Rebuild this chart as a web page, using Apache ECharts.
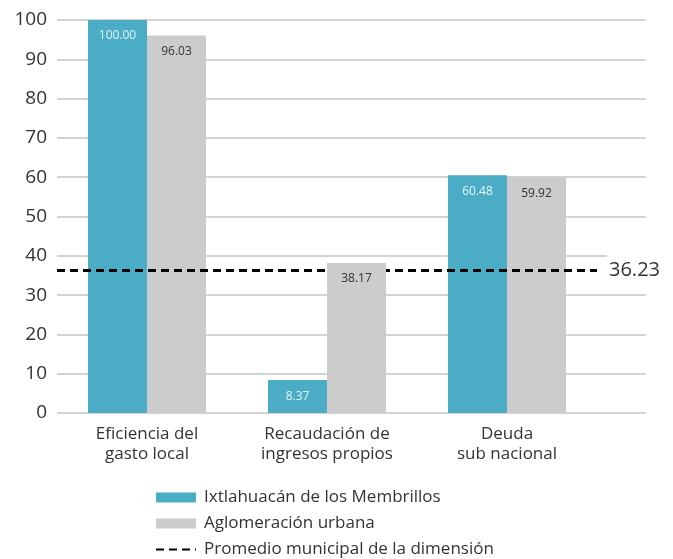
<!DOCTYPE html>
<html>
<head>
<meta charset="utf-8">
<script src="https://cdn.jsdelivr.net/npm/echarts@6/dist/echarts.min.js"></script>
<style>
html,body{margin:0;padding:0;background:#fff;}
#chart{width:673px;height:559px;}
</style>
</head>
<body>
<div id="chart"></div>
<script>
const categories = ['Eficiencia del\ngasto local', 'Recaudación de\ningresos propios', 'Deuda\nsub nacional'];
const seriesNames = ['Ixtlahuacán de los Membrillos', 'Aglomeración urbana', 'Promedio municipal de la dimensión'];
const municipio = [100.00, 8.37, 60.48];
const aglomeracion = [96.03, 38.17, 59.92];
const promedio = 36.23;
// the reference draws this one grey bar above the dashed average line
const aglomeracionAbove = aglomeracion.map((v, i) => (i === 1 ? v : '-'));

const FONT = 'Open Sans';
const chart = echarts.init(document.getElementById('chart'), null, {renderer: 'canvas'});

const greyLabel = {show: true, position: 'insideTop', distance: 10, fontSize: 12, color: '#333333',
                   formatter: p => p.value.toFixed(2), fontFamily: FONT};

const option = {
  animation: false,
  backgroundColor: '#ffffff',
  textStyle: {fontFamily: FONT},
  grid: [
    {left: 57, right: 27, top: 20, bottom: 146},
    {left: 57, right: 76, top: 20, bottom: 146}
  ],
  xAxis: [
    {gridIndex: 0, type: 'value', min: 0, max: 1, show: false},
    {
      gridIndex: 1, type: 'category', data: categories,
      axisLine: {show: false}, axisTick: {show: false},
      axisLabel: {color: '#333333', fontSize: 17, lineHeight: 20, margin: 11, fontFamily: FONT}
    },
    {gridIndex: 1, type: 'category', data: categories, show: false}
  ],
  yAxis: [
    {
      gridIndex: 0, type: 'value', min: 0, max: 100, interval: 10,
      axisLine: {show: false}, axisTick: {show: false},
      axisLabel: {color: '#333333', fontSize: 19, margin: 10, fontFamily: FONT},
      splitLine: {lineStyle: {color: '#c4c4c4', width: 1.5}}
    },
    {
      gridIndex: 1, type: 'value', min: 0, max: 100, interval: 10, show: false,
      splitLine: {show: false}
    }
  ],
  legend: {
    orient: 'vertical', left: 155, top: 489, padding: 0,
    itemWidth: 40, itemHeight: 10, itemGap: 9,
    textStyle: {color: '#333333', fontSize: 17, fontFamily: FONT, padding: [0, 0, 0, 3]},
    data: [
      {name: seriesNames[0], icon: 'rect'},
      {name: seriesNames[1], icon: 'rect'},
      {name: seriesNames[2], itemStyle: {color: 'rgba(0,0,0,0)', borderColor: 'rgba(0,0,0,0)', borderWidth: 0}}
    ]
  },
  series: [
    {
      name: seriesNames[0], type: 'bar', xAxisIndex: 1, yAxisIndex: 1,
      data: municipio, barWidth: 59, barGap: '0%',
      itemStyle: {color: '#4bacc6'},
      label: {show: true, position: 'insideTop', distance: 10, fontSize: 12, color: '#e3f3f7',
              formatter: p => p.value.toFixed(2), fontFamily: FONT}
    },
    {
      name: seriesNames[1], type: 'bar', xAxisIndex: 1, yAxisIndex: 1,
      data: aglomeracion, barWidth: 59, barGap: '0%',
      itemStyle: {color: '#cccccc'},
      label: greyLabel
    },
    {
      name: seriesNames[2], type: 'line', xAxisIndex: 1, yAxisIndex: 1,
      data: [], symbol: 'circle',
      lineStyle: {color: '#000000', width: 3, type: [8, 5]},
      itemStyle: {color: '#000000'},
      markLine: {
        silent: true, symbol: 'none', z: 5,
        lineStyle: {color: '#000000', width: 3, type: [8, 5]},
        label: {
          show: true, position: 'end', distance: 10,
          formatter: () => promedio.toFixed(2),
          fontSize: 20, color: '#333333', fontFamily: FONT,
          backgroundColor: '#ffffff', padding: [8, 2, 5, 2]
        },
        data: [{yAxis: promedio}]
      }
    },
    {
      name: 'placeholder', type: 'bar', xAxisIndex: 2, yAxisIndex: 1,
      data: [], barWidth: 59, barGap: '0%', z: 6
    },
    {
      name: seriesNames[1], type: 'bar', xAxisIndex: 2, yAxisIndex: 1,
      data: aglomeracionAbove, barWidth: 59, barGap: '0%', z: 6,
      itemStyle: {color: '#cccccc'},
      label: greyLabel
    }
  ]
};
chart.setOption(option);
</script>
</body>
</html>
